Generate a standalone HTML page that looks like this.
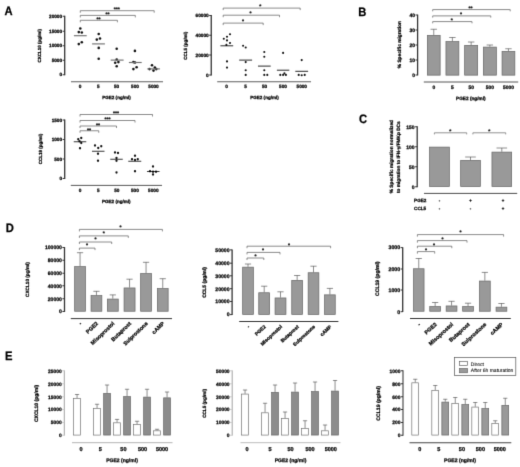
<!DOCTYPE html>
<html lang="en"><head><meta charset="utf-8"><title>Figure</title>
<style>
html,body{margin:0;padding:0;background:#fff;}
body{width:520px;height:467px;overflow:hidden;}
svg{display:block;font-family:"Liberation Sans",Arial,sans-serif;text-rendering:geometricPrecision;}
text{stroke:#000;stroke-width:0.25px;}
</style></head><body>
<svg width="520" height="467" viewBox="0 0 520 467">
<defs><filter id="soft" x="0" y="0" width="520" height="467" filterUnits="userSpaceOnUse" color-interpolation-filters="sRGB"><feConvolveMatrix order="3" kernelMatrix="0 1 0 1 6 1 0 1 0" divisor="10" edgeMode="duplicate" preserveAlpha="false"/></filter></defs>
<g filter="url(#soft)">
<rect width="520" height="467" fill="#fff"/>
<text transform="translate(4.5,14.5) scale(0.92,1)" font-size="12.2" font-weight="bold" fill="#000">A</text>
<text transform="translate(358.2,15.8) scale(0.92,1)" font-size="12.2" font-weight="bold" fill="#000">B</text>
<text transform="translate(359.0,123.4) scale(0.92,1)" font-size="12.2" font-weight="bold" fill="#000">C</text>
<text transform="translate(5.8,231.8) scale(0.92,1)" font-size="12.2" font-weight="bold" fill="#000">D</text>
<text transform="translate(4.9,359.8) scale(0.92,1)" font-size="12.2" font-weight="bold" fill="#000">E</text>
<line x1="64.70" y1="15.85" x2="64.70" y2="75.15" stroke="#333333" stroke-width="1.3" stroke-linecap="butt"/>
<line x1="62.60" y1="16.25" x2="64.70" y2="16.25" stroke="#333333" stroke-width="1.0" stroke-linecap="butt"/>
<text x="62.10" y="17.94" font-size="4.7" text-anchor="end" font-weight="bold" fill="#000">20000</text>
<line x1="62.60" y1="31.25" x2="64.70" y2="31.25" stroke="#333333" stroke-width="1.0" stroke-linecap="butt"/>
<text x="62.10" y="32.94" font-size="4.7" text-anchor="end" font-weight="bold" fill="#000">15000</text>
<line x1="62.60" y1="45.75" x2="64.70" y2="45.75" stroke="#333333" stroke-width="1.0" stroke-linecap="butt"/>
<text x="62.10" y="47.44" font-size="4.7" text-anchor="end" font-weight="bold" fill="#000">10000</text>
<line x1="62.60" y1="60.25" x2="64.70" y2="60.25" stroke="#333333" stroke-width="1.0" stroke-linecap="butt"/>
<text x="62.10" y="61.94" font-size="4.7" text-anchor="end" font-weight="bold" fill="#000">5000</text>
<line x1="62.60" y1="74.75" x2="64.70" y2="74.75" stroke="#333333" stroke-width="1.0" stroke-linecap="butt"/>
<text x="62.10" y="76.44" font-size="4.7" text-anchor="end" font-weight="bold" fill="#000">0</text>
<line x1="71.00" y1="81.75" x2="163.00" y2="81.75" stroke="#555" stroke-width="0.95" stroke-linecap="butt"/>
<text x="80.00" y="87.80" font-size="4.7" text-anchor="middle" font-weight="bold" fill="#000">0</text>
<text x="98.25" y="87.80" font-size="4.7" text-anchor="middle" font-weight="bold" fill="#000">5</text>
<text x="116.50" y="87.80" font-size="4.7" text-anchor="middle" font-weight="bold" fill="#000">50</text>
<text x="135.00" y="87.80" font-size="4.7" text-anchor="middle" font-weight="bold" fill="#000">500</text>
<text x="153.50" y="87.80" font-size="4.7" text-anchor="middle" font-weight="bold" fill="#000">5000</text>
<text x="116.50" y="99.20" font-size="4.55" text-anchor="middle" font-weight="bold" fill="#000">PGE2 (ng/ml)</text>
<text x="40.60" y="45.75" font-size="4.5" text-anchor="middle" font-weight="bold" fill="#000" transform="rotate(-90 40.60 45.75)">CXCL10 (pg/ml)</text>
<circle cx="80.30" cy="28.50" r="1.28" fill="#111"/>
<circle cx="78.80" cy="32.10" r="1.28" fill="#111"/>
<circle cx="81.80" cy="32.50" r="1.28" fill="#111"/>
<circle cx="81.80" cy="42.20" r="1.28" fill="#111"/>
<circle cx="78.80" cy="44.10" r="1.28" fill="#111"/>
<circle cx="98.70" cy="34.00" r="1.28" fill="#111"/>
<circle cx="96.80" cy="39.60" r="1.28" fill="#111"/>
<circle cx="100.00" cy="38.50" r="1.28" fill="#111"/>
<circle cx="98.70" cy="47.90" r="1.28" fill="#111"/>
<circle cx="98.70" cy="58.80" r="1.28" fill="#111"/>
<circle cx="116.70" cy="48.80" r="1.28" fill="#111"/>
<circle cx="116.70" cy="59.50" r="1.28" fill="#111"/>
<circle cx="115.20" cy="62.70" r="1.28" fill="#111"/>
<circle cx="118.40" cy="62.10" r="1.28" fill="#111"/>
<circle cx="116.70" cy="66.30" r="1.28" fill="#111"/>
<circle cx="134.90" cy="50.90" r="1.28" fill="#111"/>
<circle cx="133.40" cy="62.10" r="1.28" fill="#111"/>
<circle cx="135.00" cy="62.50" r="1.28" fill="#111"/>
<circle cx="136.60" cy="67.20" r="1.28" fill="#111"/>
<circle cx="133.40" cy="69.10" r="1.28" fill="#111"/>
<circle cx="152.00" cy="65.30" r="1.28" fill="#111"/>
<circle cx="154.80" cy="67.60" r="1.28" fill="#111"/>
<circle cx="149.50" cy="69.10" r="1.28" fill="#111"/>
<circle cx="156.30" cy="69.10" r="1.28" fill="#111"/>
<circle cx="153.50" cy="70.60" r="1.28" fill="#111"/>
<line x1="73.90" y1="35.70" x2="86.70" y2="35.70" stroke="#707070" stroke-width="1.15" stroke-linecap="butt"/>
<line x1="92.10" y1="43.90" x2="104.90" y2="43.90" stroke="#707070" stroke-width="1.15" stroke-linecap="butt"/>
<line x1="110.70" y1="60.10" x2="123.60" y2="60.10" stroke="#707070" stroke-width="1.15" stroke-linecap="butt"/>
<line x1="128.90" y1="62.50" x2="141.70" y2="62.50" stroke="#707070" stroke-width="1.15" stroke-linecap="butt"/>
<line x1="147.30" y1="68.90" x2="159.90" y2="68.90" stroke="#707070" stroke-width="1.15" stroke-linecap="butt"/>
<polyline points="80.30,12.70 80.30,10.70 154.20,10.70 154.20,12.70" fill="none" stroke="#5a5a5a" stroke-width="0.7"/>
<polyline points="80.30,17.40 80.30,15.40 135.30,15.40 135.30,17.40" fill="none" stroke="#5a5a5a" stroke-width="0.7"/>
<polyline points="80.30,22.30 80.30,20.30 117.40,20.30 117.40,22.30" fill="none" stroke="#5a5a5a" stroke-width="0.7"/>
<text x="116.70" y="11.01" font-size="5.2" text-anchor="middle" font-weight="bold" fill="#222">***</text>
<text x="107.50" y="16.21" font-size="5.2" text-anchor="middle" font-weight="bold" fill="#222">**</text>
<text x="98.50" y="21.11" font-size="5.2" text-anchor="middle" font-weight="bold" fill="#222">**</text>
<line x1="211.25" y1="15.10" x2="211.25" y2="75.40" stroke="#333333" stroke-width="1.3" stroke-linecap="butt"/>
<line x1="209.15" y1="15.50" x2="211.25" y2="15.50" stroke="#333333" stroke-width="1.0" stroke-linecap="butt"/>
<text x="208.65" y="17.19" font-size="4.7" text-anchor="end" font-weight="bold" fill="#000">60000</text>
<line x1="209.15" y1="35.25" x2="211.25" y2="35.25" stroke="#333333" stroke-width="1.0" stroke-linecap="butt"/>
<text x="208.65" y="36.94" font-size="4.7" text-anchor="end" font-weight="bold" fill="#000">40000</text>
<line x1="209.15" y1="55.00" x2="211.25" y2="55.00" stroke="#333333" stroke-width="1.0" stroke-linecap="butt"/>
<text x="208.65" y="56.69" font-size="4.7" text-anchor="end" font-weight="bold" fill="#000">20000</text>
<line x1="209.15" y1="75.00" x2="211.25" y2="75.00" stroke="#333333" stroke-width="1.0" stroke-linecap="butt"/>
<text x="208.65" y="76.69" font-size="4.7" text-anchor="end" font-weight="bold" fill="#000">0</text>
<line x1="217.20" y1="81.75" x2="311.00" y2="81.75" stroke="#555" stroke-width="0.95" stroke-linecap="butt"/>
<text x="226.60" y="87.80" font-size="4.7" text-anchor="middle" font-weight="bold" fill="#000">0</text>
<text x="245.50" y="87.80" font-size="4.7" text-anchor="middle" font-weight="bold" fill="#000">5</text>
<text x="264.50" y="87.80" font-size="4.7" text-anchor="middle" font-weight="bold" fill="#000">50</text>
<text x="283.00" y="87.80" font-size="4.7" text-anchor="middle" font-weight="bold" fill="#000">500</text>
<text x="301.75" y="87.80" font-size="4.7" text-anchor="middle" font-weight="bold" fill="#000">5000</text>
<text x="264.50" y="99.20" font-size="4.55" text-anchor="middle" font-weight="bold" fill="#000">PGE2 (ng/ml)</text>
<text x="187.20" y="45.75" font-size="4.5" text-anchor="middle" font-weight="bold" fill="#000" transform="rotate(-90 187.20 45.75)">CCL5 (pg/ml)</text>
<circle cx="230.00" cy="34.20" r="1.05" fill="#111"/>
<circle cx="227.00" cy="36.80" r="1.05" fill="#111"/>
<circle cx="223.80" cy="38.70" r="1.05" fill="#111"/>
<circle cx="227.00" cy="40.40" r="1.05" fill="#111"/>
<circle cx="230.00" cy="43.00" r="1.05" fill="#111"/>
<circle cx="226.40" cy="44.90" r="1.05" fill="#111"/>
<circle cx="227.00" cy="61.40" r="1.05" fill="#111"/>
<circle cx="227.00" cy="67.60" r="1.05" fill="#111"/>
<circle cx="243.10" cy="45.80" r="1.05" fill="#111"/>
<circle cx="245.70" cy="47.50" r="1.05" fill="#111"/>
<circle cx="245.70" cy="62.10" r="1.05" fill="#111"/>
<circle cx="245.70" cy="70.20" r="1.05" fill="#111"/>
<circle cx="245.70" cy="74.90" r="1.05" fill="#111"/>
<circle cx="264.30" cy="52.00" r="1.05" fill="#111"/>
<circle cx="264.30" cy="56.70" r="1.05" fill="#111"/>
<circle cx="264.30" cy="70.20" r="1.05" fill="#111"/>
<circle cx="264.30" cy="74.90" r="1.05" fill="#111"/>
<circle cx="267.30" cy="74.90" r="1.05" fill="#111"/>
<circle cx="283.10" cy="52.90" r="1.05" fill="#111"/>
<circle cx="280.30" cy="74.90" r="1.05" fill="#111"/>
<circle cx="283.10" cy="74.90" r="1.05" fill="#111"/>
<circle cx="285.90" cy="74.90" r="1.05" fill="#111"/>
<circle cx="284.40" cy="73.40" r="1.05" fill="#111"/>
<circle cx="301.70" cy="60.10" r="1.05" fill="#111"/>
<circle cx="298.70" cy="74.90" r="1.05" fill="#111"/>
<circle cx="301.70" cy="75.30" r="1.05" fill="#111"/>
<circle cx="304.70" cy="74.90" r="1.05" fill="#111"/>
<line x1="220.40" y1="45.80" x2="233.20" y2="45.80" stroke="#000" stroke-width="0.85" stroke-linecap="butt"/>
<line x1="239.20" y1="60.10" x2="252.10" y2="60.10" stroke="#000" stroke-width="0.85" stroke-linecap="butt"/>
<line x1="258.00" y1="66.10" x2="270.70" y2="66.10" stroke="#000" stroke-width="0.85" stroke-linecap="butt"/>
<line x1="276.90" y1="70.20" x2="289.30" y2="70.20" stroke="#000" stroke-width="0.85" stroke-linecap="butt"/>
<line x1="295.30" y1="71.30" x2="308.10" y2="71.30" stroke="#000" stroke-width="0.85" stroke-linecap="butt"/>
<polyline points="223.20,10.10 223.20,8.10 300.20,8.10 300.20,10.10" fill="none" stroke="#5a5a5a" stroke-width="0.7"/>
<polyline points="223.20,17.20 223.20,15.20 279.50,15.20 279.50,17.20" fill="none" stroke="#5a5a5a" stroke-width="0.7"/>
<polyline points="223.20,25.10 223.20,23.10 263.20,23.10 263.20,25.10" fill="none" stroke="#5a5a5a" stroke-width="0.7"/>
<text x="260.20" y="8.31" font-size="5.2" text-anchor="middle" font-weight="bold" fill="#222">*</text>
<text x="250.60" y="15.31" font-size="5.2" text-anchor="middle" font-weight="bold" fill="#222">*</text>
<text x="243.10" y="23.41" font-size="5.2" text-anchor="middle" font-weight="bold" fill="#222">*</text>
<line x1="64.70" y1="119.60" x2="64.70" y2="178.90" stroke="#333333" stroke-width="1.3" stroke-linecap="butt"/>
<line x1="62.60" y1="120.00" x2="64.70" y2="120.00" stroke="#333333" stroke-width="1.0" stroke-linecap="butt"/>
<text x="62.10" y="121.69" font-size="4.7" text-anchor="end" font-weight="bold" fill="#000">1500</text>
<line x1="62.60" y1="139.50" x2="64.70" y2="139.50" stroke="#333333" stroke-width="1.0" stroke-linecap="butt"/>
<text x="62.10" y="141.19" font-size="4.7" text-anchor="end" font-weight="bold" fill="#000">1000</text>
<line x1="62.60" y1="159.00" x2="64.70" y2="159.00" stroke="#333333" stroke-width="1.0" stroke-linecap="butt"/>
<text x="62.10" y="160.69" font-size="4.7" text-anchor="end" font-weight="bold" fill="#000">500</text>
<line x1="62.60" y1="178.50" x2="64.70" y2="178.50" stroke="#333333" stroke-width="1.0" stroke-linecap="butt"/>
<text x="62.10" y="180.19" font-size="4.7" text-anchor="end" font-weight="bold" fill="#000">0</text>
<line x1="70.80" y1="185.40" x2="162.00" y2="185.40" stroke="#444" stroke-width="0.9" stroke-linecap="butt"/>
<text x="80.00" y="192.10" font-size="4.7" text-anchor="middle" font-weight="bold" fill="#000">0</text>
<text x="98.40" y="192.10" font-size="4.7" text-anchor="middle" font-weight="bold" fill="#000">5</text>
<text x="116.80" y="192.10" font-size="4.7" text-anchor="middle" font-weight="bold" fill="#000">50</text>
<text x="134.90" y="192.10" font-size="4.7" text-anchor="middle" font-weight="bold" fill="#000">500</text>
<text x="153.30" y="192.10" font-size="4.7" text-anchor="middle" font-weight="bold" fill="#000">5000</text>
<text x="116.30" y="203.30" font-size="4.55" text-anchor="middle" font-weight="bold" fill="#000">PGE2 (ng/ml)</text>
<text x="41.60" y="149.00" font-size="4.5" text-anchor="middle" font-weight="bold" fill="#000" transform="rotate(-90 41.60 149.00)">CCL19 (pg/ml)</text>
<circle cx="78.25" cy="139.25" r="1.15" fill="#111"/>
<circle cx="81.25" cy="138.00" r="1.15" fill="#111"/>
<circle cx="79.50" cy="141.25" r="1.15" fill="#111"/>
<circle cx="81.25" cy="143.00" r="1.15" fill="#111"/>
<circle cx="80.00" cy="148.25" r="1.15" fill="#111"/>
<circle cx="95.00" cy="145.50" r="1.15" fill="#111"/>
<circle cx="101.25" cy="146.25" r="1.15" fill="#111"/>
<circle cx="98.25" cy="148.00" r="1.15" fill="#111"/>
<circle cx="98.00" cy="153.75" r="1.15" fill="#111"/>
<circle cx="98.00" cy="160.75" r="1.15" fill="#111"/>
<circle cx="115.00" cy="152.50" r="1.15" fill="#111"/>
<circle cx="118.00" cy="153.00" r="1.15" fill="#111"/>
<circle cx="116.50" cy="158.00" r="1.15" fill="#111"/>
<circle cx="116.50" cy="160.75" r="1.15" fill="#111"/>
<circle cx="116.50" cy="172.50" r="1.15" fill="#111"/>
<circle cx="135.00" cy="155.75" r="1.15" fill="#111"/>
<circle cx="132.00" cy="159.25" r="1.15" fill="#111"/>
<circle cx="135.00" cy="160.00" r="1.15" fill="#111"/>
<circle cx="137.75" cy="159.25" r="1.15" fill="#111"/>
<circle cx="135.00" cy="171.25" r="1.15" fill="#111"/>
<circle cx="153.00" cy="166.50" r="1.15" fill="#111"/>
<circle cx="150.00" cy="171.25" r="1.15" fill="#111"/>
<circle cx="153.00" cy="171.75" r="1.15" fill="#111"/>
<circle cx="156.00" cy="171.75" r="1.15" fill="#111"/>
<circle cx="153.00" cy="174.50" r="1.15" fill="#111"/>
<line x1="73.75" y1="141.75" x2="86.25" y2="141.75" stroke="#000" stroke-width="0.8" stroke-linecap="butt"/>
<line x1="92.00" y1="151.25" x2="104.50" y2="151.25" stroke="#000" stroke-width="0.8" stroke-linecap="butt"/>
<line x1="110.25" y1="159.25" x2="122.75" y2="159.25" stroke="#000" stroke-width="0.8" stroke-linecap="butt"/>
<line x1="128.25" y1="161.25" x2="141.25" y2="161.25" stroke="#000" stroke-width="0.8" stroke-linecap="butt"/>
<line x1="147.00" y1="171.50" x2="159.50" y2="171.50" stroke="#000" stroke-width="0.8" stroke-linecap="butt"/>
<polyline points="80.00,116.50 80.00,114.50 152.50,114.50 152.50,116.50" fill="none" stroke="#5a5a5a" stroke-width="0.7"/>
<polyline points="80.00,122.50 80.00,120.50 135.00,120.50 135.00,122.50" fill="none" stroke="#5a5a5a" stroke-width="0.7"/>
<polyline points="80.00,128.00 80.00,126.00 116.50,126.00 116.50,128.00" fill="none" stroke="#5a5a5a" stroke-width="0.7"/>
<polyline points="80.00,132.75 80.00,130.75 98.75,130.75 98.75,132.75" fill="none" stroke="#5a5a5a" stroke-width="0.7"/>
<text x="116.00" y="114.66" font-size="5.2" text-anchor="middle" font-weight="bold" fill="#222">***</text>
<text x="107.50" y="120.91" font-size="5.2" text-anchor="middle" font-weight="bold" fill="#222">***</text>
<text x="98.00" y="126.66" font-size="5.2" text-anchor="middle" font-weight="bold" fill="#222">**</text>
<text x="89.00" y="131.66" font-size="5.2" text-anchor="middle" font-weight="bold" fill="#222">**</text>
<line x1="417.60" y1="14.60" x2="417.60" y2="75.40" stroke="#333333" stroke-width="1.3" stroke-linecap="butt"/>
<line x1="415.50" y1="15.00" x2="417.60" y2="15.00" stroke="#333333" stroke-width="1.0" stroke-linecap="butt"/>
<text x="415.00" y="16.80" font-size="5.0" text-anchor="end" font-weight="bold" fill="#000">40</text>
<line x1="415.50" y1="30.00" x2="417.60" y2="30.00" stroke="#333333" stroke-width="1.0" stroke-linecap="butt"/>
<text x="415.00" y="31.80" font-size="5.0" text-anchor="end" font-weight="bold" fill="#000">30</text>
<line x1="415.50" y1="45.00" x2="417.60" y2="45.00" stroke="#333333" stroke-width="1.0" stroke-linecap="butt"/>
<text x="415.00" y="46.80" font-size="5.0" text-anchor="end" font-weight="bold" fill="#000">20</text>
<line x1="415.50" y1="60.00" x2="417.60" y2="60.00" stroke="#333333" stroke-width="1.0" stroke-linecap="butt"/>
<text x="415.00" y="61.80" font-size="5.0" text-anchor="end" font-weight="bold" fill="#000">10</text>
<line x1="415.50" y1="75.00" x2="417.60" y2="75.00" stroke="#333333" stroke-width="1.0" stroke-linecap="butt"/>
<text x="415.00" y="76.80" font-size="5.0" text-anchor="end" font-weight="bold" fill="#000">0</text>
<line x1="423.80" y1="82.00" x2="518.20" y2="82.00" stroke="#555" stroke-width="1.1" stroke-linecap="butt"/>
<line x1="433.75" y1="35.00" x2="433.75" y2="29.25" stroke="#505050" stroke-width="0.65" stroke-linecap="butt"/>
<line x1="430.55" y1="29.25" x2="436.95" y2="29.25" stroke="#505050" stroke-width="0.65" stroke-linecap="butt"/>
<rect x="427.35" y="35.35" width="12.80" height="39.80" fill="#999999" stroke="#666666" stroke-width="0.7"/>
<line x1="452.40" y1="41.25" x2="452.40" y2="37.50" stroke="#505050" stroke-width="0.65" stroke-linecap="butt"/>
<line x1="449.20" y1="37.50" x2="455.60" y2="37.50" stroke="#505050" stroke-width="0.65" stroke-linecap="butt"/>
<rect x="445.95" y="41.60" width="12.90" height="33.55" fill="#999999" stroke="#666666" stroke-width="0.7"/>
<line x1="471.15" y1="45.00" x2="471.15" y2="42.00" stroke="#505050" stroke-width="0.65" stroke-linecap="butt"/>
<line x1="467.95" y1="42.00" x2="474.35" y2="42.00" stroke="#505050" stroke-width="0.65" stroke-linecap="butt"/>
<rect x="464.65" y="45.35" width="13.00" height="29.80" fill="#999999" stroke="#666666" stroke-width="0.7"/>
<line x1="489.85" y1="46.75" x2="489.85" y2="45.00" stroke="#505050" stroke-width="0.65" stroke-linecap="butt"/>
<line x1="486.65" y1="45.00" x2="493.05" y2="45.00" stroke="#505050" stroke-width="0.65" stroke-linecap="butt"/>
<rect x="483.35" y="47.10" width="13.00" height="28.05" fill="#999999" stroke="#666666" stroke-width="0.7"/>
<line x1="508.45" y1="51.00" x2="508.45" y2="48.75" stroke="#505050" stroke-width="0.65" stroke-linecap="butt"/>
<line x1="505.25" y1="48.75" x2="511.65" y2="48.75" stroke="#505050" stroke-width="0.65" stroke-linecap="butt"/>
<rect x="502.05" y="51.35" width="12.80" height="23.80" fill="#999999" stroke="#666666" stroke-width="0.7"/>
<text x="433.75" y="88.70" font-size="4.95" text-anchor="middle" font-weight="bold" fill="#000">0</text>
<text x="452.40" y="88.70" font-size="4.95" text-anchor="middle" font-weight="bold" fill="#000">5</text>
<text x="471.15" y="88.70" font-size="4.95" text-anchor="middle" font-weight="bold" fill="#000">50</text>
<text x="489.85" y="88.70" font-size="4.95" text-anchor="middle" font-weight="bold" fill="#000">500</text>
<text x="508.45" y="88.70" font-size="4.95" text-anchor="middle" font-weight="bold" fill="#000">5000</text>
<text x="470.80" y="99.50" font-size="4.7" text-anchor="middle" font-weight="bold" fill="#000">PGE2 (ng/ml)</text>
<text x="400.60" y="44.60" font-size="4.8" text-anchor="middle" font-weight="bold" fill="#000" transform="rotate(-90 400.60 44.60)">% Specific migration</text>
<polyline points="432.70,11.30 432.70,9.60 510.20,9.60 510.20,11.30" fill="none" stroke="#888" stroke-width="1.0"/>
<polyline points="432.70,17.60 432.70,15.90 490.75,15.90 490.75,17.60" fill="none" stroke="#888" stroke-width="1.0"/>
<polyline points="432.70,23.30 432.70,21.60 472.00,21.60 472.00,23.30" fill="none" stroke="#888" stroke-width="1.0"/>
<text x="470.50" y="9.91" font-size="5.2" text-anchor="middle" font-weight="bold" fill="#222">**</text>
<text x="461.00" y="16.41" font-size="5.2" text-anchor="middle" font-weight="bold" fill="#222">*</text>
<text x="451.75" y="21.91" font-size="5.2" text-anchor="middle" font-weight="bold" fill="#222">*</text>
<line x1="417.20" y1="126.35" x2="417.20" y2="187.15" stroke="#333333" stroke-width="1.3" stroke-linecap="butt"/>
<line x1="415.10" y1="126.75" x2="417.20" y2="126.75" stroke="#333333" stroke-width="1.0" stroke-linecap="butt"/>
<text x="414.60" y="128.55" font-size="5.0" text-anchor="end" font-weight="bold" fill="#000">150</text>
<line x1="415.10" y1="146.75" x2="417.20" y2="146.75" stroke="#333333" stroke-width="1.0" stroke-linecap="butt"/>
<text x="414.60" y="148.55" font-size="5.0" text-anchor="end" font-weight="bold" fill="#000">100</text>
<line x1="415.10" y1="166.75" x2="417.20" y2="166.75" stroke="#333333" stroke-width="1.0" stroke-linecap="butt"/>
<text x="414.60" y="168.55" font-size="5.0" text-anchor="end" font-weight="bold" fill="#000">50</text>
<line x1="415.10" y1="186.75" x2="417.20" y2="186.75" stroke="#333333" stroke-width="1.0" stroke-linecap="butt"/>
<text x="414.60" y="188.55" font-size="5.0" text-anchor="end" font-weight="bold" fill="#000">0</text>
<line x1="424.00" y1="193.40" x2="517.20" y2="193.40" stroke="#4a4a4a" stroke-width="1.0" stroke-linecap="butt"/>
<rect x="429.55" y="147.10" width="19.80" height="39.45" fill="#999999" stroke="#666666" stroke-width="0.7"/>
<line x1="470.50" y1="160.00" x2="470.50" y2="157.00" stroke="#505050" stroke-width="0.65" stroke-linecap="butt"/>
<line x1="465.20" y1="157.00" x2="475.80" y2="157.00" stroke="#505050" stroke-width="0.65" stroke-linecap="butt"/>
<rect x="460.65" y="160.35" width="19.70" height="26.20" fill="#999999" stroke="#666666" stroke-width="0.7"/>
<line x1="501.80" y1="151.75" x2="501.80" y2="148.00" stroke="#505050" stroke-width="0.65" stroke-linecap="butt"/>
<line x1="496.50" y1="148.00" x2="507.10" y2="148.00" stroke="#505050" stroke-width="0.65" stroke-linecap="butt"/>
<rect x="491.95" y="152.10" width="19.70" height="34.45" fill="#999999" stroke="#666666" stroke-width="0.7"/>
<polyline points="434.40,134.40 434.40,132.80 466.70,132.80 466.70,134.40" fill="none" stroke="#777" stroke-width="0.8"/>
<polyline points="472.90,134.40 472.90,132.80 505.70,132.80 505.70,134.40" fill="none" stroke="#777" stroke-width="0.8"/>
<text x="450.30" y="132.51" font-size="5.2" text-anchor="middle" font-weight="bold" fill="#222">*</text>
<text x="489.20" y="132.51" font-size="5.2" text-anchor="middle" font-weight="bold" fill="#222">*</text>
<text x="414.10" y="202.10" font-size="4.6" text-anchor="start" font-weight="bold" fill="#000">PGE2</text>
<text x="414.10" y="209.60" font-size="4.6" text-anchor="start" font-weight="bold" fill="#000">CCL5</text>
<text x="439.40" y="201.90" font-size="4.3" text-anchor="middle" font-weight="bold" fill="#000">-</text>
<text x="470.50" y="201.90" font-size="4.3" text-anchor="middle" font-weight="bold" fill="#000">+</text>
<text x="503.00" y="201.90" font-size="4.3" text-anchor="middle" font-weight="bold" fill="#000">+</text>
<text x="439.40" y="209.50" font-size="4.3" text-anchor="middle" font-weight="bold" fill="#000">-</text>
<text x="470.50" y="209.50" font-size="4.3" text-anchor="middle" font-weight="bold" fill="#000">-</text>
<text x="503.00" y="209.50" font-size="4.3" text-anchor="middle" font-weight="bold" fill="#000">+</text>
<text x="393.40" y="156.60" font-size="4.75" text-anchor="middle" font-weight="bold" fill="#000" transform="rotate(-90 393.40 156.60)">% Specific migration normalized</text>
<text x="399.80" y="157.20" font-size="4.75" text-anchor="middle" font-weight="bold" fill="#000" transform="rotate(-90 399.80 157.20)">to migration to IFN-γ/FMKp DCs</text>
<line x1="64.50" y1="247.10" x2="64.50" y2="311.90" stroke="#333333" stroke-width="1.3" stroke-linecap="butt"/>
<line x1="62.40" y1="247.50" x2="64.50" y2="247.50" stroke="#333333" stroke-width="1.0" stroke-linecap="butt"/>
<text x="61.90" y="249.34" font-size="5.1" text-anchor="end" font-weight="bold" fill="#000">100000</text>
<line x1="62.40" y1="260.25" x2="64.50" y2="260.25" stroke="#333333" stroke-width="1.0" stroke-linecap="butt"/>
<text x="61.90" y="262.09" font-size="5.1" text-anchor="end" font-weight="bold" fill="#000">80000</text>
<line x1="62.40" y1="273.25" x2="64.50" y2="273.25" stroke="#333333" stroke-width="1.0" stroke-linecap="butt"/>
<text x="61.90" y="275.09" font-size="5.1" text-anchor="end" font-weight="bold" fill="#000">60000</text>
<line x1="62.40" y1="285.75" x2="64.50" y2="285.75" stroke="#333333" stroke-width="1.0" stroke-linecap="butt"/>
<text x="61.90" y="287.59" font-size="5.1" text-anchor="end" font-weight="bold" fill="#000">40000</text>
<line x1="62.40" y1="298.75" x2="64.50" y2="298.75" stroke="#333333" stroke-width="1.0" stroke-linecap="butt"/>
<text x="61.90" y="300.59" font-size="5.1" text-anchor="end" font-weight="bold" fill="#000">20000</text>
<line x1="62.40" y1="311.50" x2="64.50" y2="311.50" stroke="#333333" stroke-width="1.0" stroke-linecap="butt"/>
<text x="61.90" y="313.34" font-size="5.1" text-anchor="end" font-weight="bold" fill="#000">0</text>
<line x1="70.80" y1="318.60" x2="172.00" y2="318.60" stroke="#333333" stroke-width="1.0" stroke-linecap="butt"/>
<line x1="80.05" y1="266.30" x2="80.05" y2="252.70" stroke="#505050" stroke-width="0.65" stroke-linecap="butt"/>
<line x1="76.95" y1="252.70" x2="83.15" y2="252.70" stroke="#505050" stroke-width="0.65" stroke-linecap="butt"/>
<rect x="74.65" y="266.65" width="10.80" height="44.60" fill="#999999" stroke="#666666" stroke-width="0.7"/>
<line x1="96.45" y1="295.30" x2="96.45" y2="291.30" stroke="#505050" stroke-width="0.65" stroke-linecap="butt"/>
<line x1="93.35" y1="291.30" x2="99.55" y2="291.30" stroke="#505050" stroke-width="0.65" stroke-linecap="butt"/>
<rect x="91.05" y="295.65" width="10.80" height="15.60" fill="#999999" stroke="#666666" stroke-width="0.7"/>
<line x1="112.80" y1="298.70" x2="112.80" y2="294.90" stroke="#505050" stroke-width="0.65" stroke-linecap="butt"/>
<line x1="109.70" y1="294.90" x2="115.90" y2="294.90" stroke="#505050" stroke-width="0.65" stroke-linecap="butt"/>
<rect x="107.35" y="299.05" width="10.90" height="12.20" fill="#999999" stroke="#666666" stroke-width="0.7"/>
<line x1="129.55" y1="287.60" x2="129.55" y2="279.20" stroke="#505050" stroke-width="0.65" stroke-linecap="butt"/>
<line x1="126.45" y1="279.20" x2="132.65" y2="279.20" stroke="#505050" stroke-width="0.65" stroke-linecap="butt"/>
<rect x="124.05" y="287.95" width="11.00" height="23.30" fill="#999999" stroke="#666666" stroke-width="0.7"/>
<line x1="146.05" y1="273.20" x2="146.05" y2="262.30" stroke="#505050" stroke-width="0.65" stroke-linecap="butt"/>
<line x1="142.95" y1="262.30" x2="149.15" y2="262.30" stroke="#505050" stroke-width="0.65" stroke-linecap="butt"/>
<rect x="140.65" y="273.55" width="10.80" height="37.70" fill="#999999" stroke="#666666" stroke-width="0.7"/>
<line x1="162.75" y1="288.20" x2="162.75" y2="278.70" stroke="#505050" stroke-width="0.65" stroke-linecap="butt"/>
<line x1="159.65" y1="278.70" x2="165.85" y2="278.70" stroke="#505050" stroke-width="0.65" stroke-linecap="butt"/>
<rect x="157.35" y="288.55" width="10.80" height="22.70" fill="#999999" stroke="#666666" stroke-width="0.7"/>
<text x="82.05" y="324.00" font-size="5.4" text-anchor="end" font-weight="bold" fill="#000" transform="rotate(-44 82.05 324.00)">-</text>
<text x="98.45" y="324.00" font-size="5.4" text-anchor="end" font-weight="bold" fill="#000" transform="rotate(-44 98.45 324.00)">PGE2</text>
<text x="114.80" y="324.00" font-size="5.4" text-anchor="end" font-weight="bold" fill="#000" transform="rotate(-44 114.80 324.00)">Misoprostol</text>
<text x="131.55" y="324.00" font-size="5.4" text-anchor="end" font-weight="bold" fill="#000" transform="rotate(-44 131.55 324.00)">Butaprost</text>
<text x="148.05" y="324.00" font-size="5.4" text-anchor="end" font-weight="bold" fill="#000" transform="rotate(-44 148.05 324.00)">Sulprostone</text>
<text x="164.75" y="324.00" font-size="5.4" text-anchor="end" font-weight="bold" fill="#000" transform="rotate(-44 164.75 324.00)">cAMP</text>
<text x="29.20" y="279.50" font-size="4.7" text-anchor="middle" font-weight="bold" fill="#000" transform="rotate(-90 29.20 279.50)">CXCL10 (pg/ml)</text>
<polyline points="79.40,231.40 79.40,229.40 162.40,229.40 162.40,231.40" fill="none" stroke="#5a5a5a" stroke-width="0.7"/>
<polyline points="79.40,237.90 79.40,235.90 128.30,235.90 128.30,237.90" fill="none" stroke="#5a5a5a" stroke-width="0.7"/>
<polyline points="79.40,244.00 79.40,242.00 111.70,242.00 111.70,244.00" fill="none" stroke="#5a5a5a" stroke-width="0.7"/>
<polyline points="79.40,250.10 79.40,248.10 95.00,248.10 95.00,250.10" fill="none" stroke="#5a5a5a" stroke-width="0.7"/>
<text x="120.50" y="228.91" font-size="5.2" text-anchor="middle" font-weight="bold" fill="#222">*</text>
<text x="103.75" y="234.91" font-size="5.2" text-anchor="middle" font-weight="bold" fill="#222">*</text>
<text x="95.50" y="241.31" font-size="5.2" text-anchor="middle" font-weight="bold" fill="#222">*</text>
<text x="87.00" y="247.41" font-size="5.2" text-anchor="middle" font-weight="bold" fill="#222">*</text>
<line x1="232.10" y1="249.50" x2="232.10" y2="315.00" stroke="#333333" stroke-width="1.3" stroke-linecap="butt"/>
<line x1="230.00" y1="249.90" x2="232.10" y2="249.90" stroke="#333333" stroke-width="1.0" stroke-linecap="butt"/>
<text x="229.50" y="251.74" font-size="5.1" text-anchor="end" font-weight="bold" fill="#000">50000</text>
<line x1="230.00" y1="263.20" x2="232.10" y2="263.20" stroke="#333333" stroke-width="1.0" stroke-linecap="butt"/>
<text x="229.50" y="265.04" font-size="5.1" text-anchor="end" font-weight="bold" fill="#000">40000</text>
<line x1="230.00" y1="275.80" x2="232.10" y2="275.80" stroke="#333333" stroke-width="1.0" stroke-linecap="butt"/>
<text x="229.50" y="277.64" font-size="5.1" text-anchor="end" font-weight="bold" fill="#000">30000</text>
<line x1="230.00" y1="288.70" x2="232.10" y2="288.70" stroke="#333333" stroke-width="1.0" stroke-linecap="butt"/>
<text x="229.50" y="290.54" font-size="5.1" text-anchor="end" font-weight="bold" fill="#000">20000</text>
<line x1="230.00" y1="301.50" x2="232.10" y2="301.50" stroke="#333333" stroke-width="1.0" stroke-linecap="butt"/>
<text x="229.50" y="303.34" font-size="5.1" text-anchor="end" font-weight="bold" fill="#000">10000</text>
<line x1="230.00" y1="314.60" x2="232.10" y2="314.60" stroke="#333333" stroke-width="1.0" stroke-linecap="butt"/>
<text x="229.50" y="316.44" font-size="5.1" text-anchor="end" font-weight="bold" fill="#000">0</text>
<line x1="239.20" y1="321.50" x2="338.40" y2="321.50" stroke="#333333" stroke-width="1.0" stroke-linecap="butt"/>
<line x1="248.00" y1="266.80" x2="248.00" y2="264.00" stroke="#505050" stroke-width="0.65" stroke-linecap="butt"/>
<line x1="244.90" y1="264.00" x2="251.10" y2="264.00" stroke="#505050" stroke-width="0.65" stroke-linecap="butt"/>
<rect x="242.65" y="267.15" width="10.70" height="47.30" fill="#999999" stroke="#666666" stroke-width="0.7"/>
<line x1="264.20" y1="292.40" x2="264.20" y2="286.20" stroke="#505050" stroke-width="0.65" stroke-linecap="butt"/>
<line x1="261.10" y1="286.20" x2="267.30" y2="286.20" stroke="#505050" stroke-width="0.65" stroke-linecap="butt"/>
<rect x="258.75" y="292.75" width="10.90" height="21.70" fill="#999999" stroke="#666666" stroke-width="0.7"/>
<line x1="280.50" y1="297.60" x2="280.50" y2="291.80" stroke="#505050" stroke-width="0.65" stroke-linecap="butt"/>
<line x1="277.40" y1="291.80" x2="283.60" y2="291.80" stroke="#505050" stroke-width="0.65" stroke-linecap="butt"/>
<rect x="275.05" y="297.95" width="10.90" height="16.50" fill="#999999" stroke="#666666" stroke-width="0.7"/>
<line x1="297.15" y1="280.00" x2="297.15" y2="275.50" stroke="#505050" stroke-width="0.65" stroke-linecap="butt"/>
<line x1="294.05" y1="275.50" x2="300.25" y2="275.50" stroke="#505050" stroke-width="0.65" stroke-linecap="butt"/>
<rect x="291.75" y="280.35" width="10.80" height="34.10" fill="#999999" stroke="#666666" stroke-width="0.7"/>
<line x1="313.50" y1="272.40" x2="313.50" y2="266.20" stroke="#505050" stroke-width="0.65" stroke-linecap="butt"/>
<line x1="310.40" y1="266.20" x2="316.60" y2="266.20" stroke="#505050" stroke-width="0.65" stroke-linecap="butt"/>
<rect x="308.15" y="272.75" width="10.70" height="41.70" fill="#999999" stroke="#666666" stroke-width="0.7"/>
<line x1="329.90" y1="294.50" x2="329.90" y2="288.40" stroke="#505050" stroke-width="0.65" stroke-linecap="butt"/>
<line x1="326.80" y1="288.40" x2="333.00" y2="288.40" stroke="#505050" stroke-width="0.65" stroke-linecap="butt"/>
<rect x="324.55" y="294.85" width="10.70" height="19.60" fill="#999999" stroke="#666666" stroke-width="0.7"/>
<text x="250.00" y="327.20" font-size="4.85" text-anchor="end" font-weight="bold" fill="#000" transform="rotate(-43 250.00 327.20)">-</text>
<text x="266.20" y="327.20" font-size="4.85" text-anchor="end" font-weight="bold" fill="#000" transform="rotate(-43 266.20 327.20)">PGE2</text>
<text x="282.50" y="327.20" font-size="4.85" text-anchor="end" font-weight="bold" fill="#000" transform="rotate(-43 282.50 327.20)">Misoprostol</text>
<text x="299.15" y="327.20" font-size="4.85" text-anchor="end" font-weight="bold" fill="#000" transform="rotate(-43 299.15 327.20)">Butaprost</text>
<text x="315.50" y="327.20" font-size="4.85" text-anchor="end" font-weight="bold" fill="#000" transform="rotate(-43 315.50 327.20)">Sulprostone</text>
<text x="331.90" y="327.20" font-size="4.85" text-anchor="end" font-weight="bold" fill="#000" transform="rotate(-43 331.90 327.20)">cAMP</text>
<text x="206.30" y="282.40" font-size="4.95" text-anchor="middle" font-weight="bold" fill="#000" transform="rotate(-90 206.30 282.40)">CCL5 (pg/ml)</text>
<polyline points="247.00,248.20 247.00,246.20 330.60,246.20 330.60,248.20" fill="none" stroke="#5a5a5a" stroke-width="0.7"/>
<polyline points="247.00,254.40 247.00,252.40 280.00,252.40 280.00,254.40" fill="none" stroke="#5a5a5a" stroke-width="0.7"/>
<polyline points="247.00,260.00 247.00,258.00 263.80,258.00 263.80,260.00" fill="none" stroke="#5a5a5a" stroke-width="0.7"/>
<text x="289.00" y="246.71" font-size="5.2" text-anchor="middle" font-weight="bold" fill="#222">*</text>
<text x="263.00" y="252.21" font-size="5.2" text-anchor="middle" font-weight="bold" fill="#222">*</text>
<text x="255.50" y="258.41" font-size="5.2" text-anchor="middle" font-weight="bold" fill="#222">*</text>
<line x1="402.70" y1="247.20" x2="402.70" y2="312.10" stroke="#333333" stroke-width="1.3" stroke-linecap="butt"/>
<line x1="400.60" y1="247.60" x2="402.70" y2="247.60" stroke="#333333" stroke-width="1.0" stroke-linecap="butt"/>
<text x="400.10" y="249.47" font-size="5.2" text-anchor="end" font-weight="bold" fill="#000">3000</text>
<line x1="400.60" y1="269.00" x2="402.70" y2="269.00" stroke="#333333" stroke-width="1.0" stroke-linecap="butt"/>
<text x="400.10" y="270.87" font-size="5.2" text-anchor="end" font-weight="bold" fill="#000">2000</text>
<line x1="400.60" y1="290.00" x2="402.70" y2="290.00" stroke="#333333" stroke-width="1.0" stroke-linecap="butt"/>
<text x="400.10" y="291.87" font-size="5.2" text-anchor="end" font-weight="bold" fill="#000">1000</text>
<line x1="400.60" y1="311.70" x2="402.70" y2="311.70" stroke="#333333" stroke-width="1.0" stroke-linecap="butt"/>
<text x="400.10" y="313.57" font-size="5.2" text-anchor="end" font-weight="bold" fill="#000">0</text>
<line x1="410.00" y1="318.50" x2="510.80" y2="318.50" stroke="#333333" stroke-width="1.0" stroke-linecap="butt"/>
<line x1="418.75" y1="268.40" x2="418.75" y2="258.50" stroke="#505050" stroke-width="0.65" stroke-linecap="butt"/>
<line x1="415.65" y1="258.50" x2="421.85" y2="258.50" stroke="#505050" stroke-width="0.65" stroke-linecap="butt"/>
<rect x="413.45" y="268.75" width="10.60" height="42.50" fill="#999999" stroke="#666666" stroke-width="0.7"/>
<line x1="435.15" y1="306.20" x2="435.15" y2="302.50" stroke="#505050" stroke-width="0.65" stroke-linecap="butt"/>
<line x1="432.05" y1="302.50" x2="438.25" y2="302.50" stroke="#505050" stroke-width="0.65" stroke-linecap="butt"/>
<rect x="429.75" y="306.55" width="10.80" height="4.70" fill="#999999" stroke="#666666" stroke-width="0.7"/>
<line x1="451.55" y1="305.60" x2="451.55" y2="301.30" stroke="#505050" stroke-width="0.65" stroke-linecap="butt"/>
<line x1="448.45" y1="301.30" x2="454.65" y2="301.30" stroke="#505050" stroke-width="0.65" stroke-linecap="butt"/>
<rect x="446.15" y="305.95" width="10.80" height="5.30" fill="#999999" stroke="#666666" stroke-width="0.7"/>
<line x1="468.05" y1="306.20" x2="468.05" y2="303.20" stroke="#505050" stroke-width="0.65" stroke-linecap="butt"/>
<line x1="464.95" y1="303.20" x2="471.15" y2="303.20" stroke="#505050" stroke-width="0.65" stroke-linecap="butt"/>
<rect x="462.65" y="306.55" width="10.80" height="4.70" fill="#999999" stroke="#666666" stroke-width="0.7"/>
<line x1="484.85" y1="280.70" x2="484.85" y2="272.40" stroke="#505050" stroke-width="0.65" stroke-linecap="butt"/>
<line x1="481.75" y1="272.40" x2="487.95" y2="272.40" stroke="#505050" stroke-width="0.65" stroke-linecap="butt"/>
<rect x="479.45" y="281.05" width="10.80" height="30.20" fill="#999999" stroke="#666666" stroke-width="0.7"/>
<line x1="501.45" y1="306.80" x2="501.45" y2="303.50" stroke="#505050" stroke-width="0.65" stroke-linecap="butt"/>
<line x1="498.35" y1="303.50" x2="504.55" y2="303.50" stroke="#505050" stroke-width="0.65" stroke-linecap="butt"/>
<rect x="496.05" y="307.15" width="10.80" height="4.10" fill="#999999" stroke="#666666" stroke-width="0.7"/>
<text x="420.75" y="325.00" font-size="5.45" text-anchor="end" font-weight="bold" fill="#000" transform="rotate(-42.5 420.75 325.00)">-</text>
<text x="437.15" y="325.00" font-size="5.45" text-anchor="end" font-weight="bold" fill="#000" transform="rotate(-42.5 437.15 325.00)">PGE2</text>
<text x="453.55" y="325.00" font-size="5.45" text-anchor="end" font-weight="bold" fill="#000" transform="rotate(-42.5 453.55 325.00)">Misoprostol</text>
<text x="470.05" y="325.00" font-size="5.45" text-anchor="end" font-weight="bold" fill="#000" transform="rotate(-42.5 470.05 325.00)">Butaprost</text>
<text x="486.85" y="325.00" font-size="5.45" text-anchor="end" font-weight="bold" fill="#000" transform="rotate(-42.5 486.85 325.00)">Sulprostone</text>
<text x="503.45" y="325.00" font-size="5.45" text-anchor="end" font-weight="bold" fill="#000" transform="rotate(-42.5 503.45 325.00)">cAMP</text>
<text x="379.40" y="278.70" font-size="5.1" text-anchor="middle" font-weight="bold" fill="#000" transform="rotate(-90 379.40 278.70)">CCL19 (pg/ml)</text>
<polyline points="417.40,236.60 417.40,234.60 503.60,234.60 503.60,236.60" fill="none" stroke="#5a5a5a" stroke-width="0.7"/>
<polyline points="417.40,242.60 417.40,240.60 467.00,240.60 467.00,242.60" fill="none" stroke="#5a5a5a" stroke-width="0.7"/>
<polyline points="417.40,248.20 417.40,246.20 451.80,246.20 451.80,248.20" fill="none" stroke="#5a5a5a" stroke-width="0.7"/>
<polyline points="417.40,253.60 417.40,251.60 434.70,251.60 434.70,253.60" fill="none" stroke="#5a5a5a" stroke-width="0.7"/>
<text x="460.60" y="234.41" font-size="5.2" text-anchor="middle" font-weight="bold" fill="#222">*</text>
<text x="442.50" y="240.51" font-size="5.2" text-anchor="middle" font-weight="bold" fill="#222">*</text>
<text x="434.00" y="246.71" font-size="5.2" text-anchor="middle" font-weight="bold" fill="#222">*</text>
<text x="426.00" y="252.21" font-size="5.2" text-anchor="middle" font-weight="bold" fill="#222">*</text>
<line x1="64.30" y1="370.35" x2="64.30" y2="435.65" stroke="#999" stroke-width="0.9" stroke-linecap="butt"/>
<line x1="62.20" y1="370.75" x2="64.30" y2="370.75" stroke="#ccc" stroke-width="1.0" stroke-linecap="butt"/>
<text x="61.70" y="372.51" font-size="4.9" text-anchor="end" font-weight="bold" fill="#000">25000</text>
<line x1="62.20" y1="383.75" x2="64.30" y2="383.75" stroke="#ccc" stroke-width="1.0" stroke-linecap="butt"/>
<text x="61.70" y="385.51" font-size="4.9" text-anchor="end" font-weight="bold" fill="#000">20000</text>
<line x1="62.20" y1="396.75" x2="64.30" y2="396.75" stroke="#ccc" stroke-width="1.0" stroke-linecap="butt"/>
<text x="61.70" y="398.51" font-size="4.9" text-anchor="end" font-weight="bold" fill="#000">15000</text>
<line x1="62.20" y1="409.50" x2="64.30" y2="409.50" stroke="#ccc" stroke-width="1.0" stroke-linecap="butt"/>
<text x="61.70" y="411.26" font-size="4.9" text-anchor="end" font-weight="bold" fill="#000">10000</text>
<line x1="62.20" y1="422.50" x2="64.30" y2="422.50" stroke="#ccc" stroke-width="1.0" stroke-linecap="butt"/>
<text x="61.70" y="424.26" font-size="4.9" text-anchor="end" font-weight="bold" fill="#000">5000</text>
<line x1="62.20" y1="435.25" x2="64.30" y2="435.25" stroke="#ccc" stroke-width="1.0" stroke-linecap="butt"/>
<text x="61.70" y="437.01" font-size="4.9" text-anchor="end" font-weight="bold" fill="#000">0</text>
<line x1="72.00" y1="442.70" x2="172.50" y2="442.70" stroke="#aaa" stroke-width="0.9" stroke-linecap="butt"/>
<line x1="77.05" y1="398.00" x2="77.05" y2="394.50" stroke="#505050" stroke-width="0.65" stroke-linecap="butt"/>
<line x1="74.95" y1="394.50" x2="79.15" y2="394.50" stroke="#505050" stroke-width="0.65" stroke-linecap="butt"/>
<rect x="73.62" y="398.32" width="6.85" height="36.75" fill="#fff" stroke="#6a6a6a" stroke-width="0.65"/>
<line x1="97.05" y1="408.00" x2="97.05" y2="404.25" stroke="#505050" stroke-width="0.65" stroke-linecap="butt"/>
<line x1="94.95" y1="404.25" x2="99.15" y2="404.25" stroke="#505050" stroke-width="0.65" stroke-linecap="butt"/>
<rect x="93.62" y="408.32" width="6.85" height="26.75" fill="#fff" stroke="#6a6a6a" stroke-width="0.65"/>
<line x1="107.05" y1="393.00" x2="107.05" y2="385.00" stroke="#505050" stroke-width="0.65" stroke-linecap="butt"/>
<line x1="104.95" y1="385.00" x2="109.15" y2="385.00" stroke="#505050" stroke-width="0.65" stroke-linecap="butt"/>
<rect x="103.65" y="393.35" width="6.80" height="41.70" fill="#8c8c8c" stroke="#666666" stroke-width="0.7"/>
<line x1="117.05" y1="422.50" x2="117.05" y2="419.40" stroke="#505050" stroke-width="0.65" stroke-linecap="butt"/>
<line x1="114.95" y1="419.40" x2="119.15" y2="419.40" stroke="#505050" stroke-width="0.65" stroke-linecap="butt"/>
<rect x="113.62" y="422.82" width="6.85" height="12.25" fill="#fff" stroke="#6a6a6a" stroke-width="0.65"/>
<line x1="127.05" y1="396.25" x2="127.05" y2="389.25" stroke="#505050" stroke-width="0.65" stroke-linecap="butt"/>
<line x1="124.95" y1="389.25" x2="129.15" y2="389.25" stroke="#505050" stroke-width="0.65" stroke-linecap="butt"/>
<rect x="123.65" y="396.60" width="6.80" height="38.45" fill="#8c8c8c" stroke="#666666" stroke-width="0.7"/>
<line x1="137.05" y1="424.25" x2="137.05" y2="421.25" stroke="#505050" stroke-width="0.65" stroke-linecap="butt"/>
<line x1="134.95" y1="421.25" x2="139.15" y2="421.25" stroke="#505050" stroke-width="0.65" stroke-linecap="butt"/>
<rect x="133.62" y="424.57" width="6.85" height="10.50" fill="#fff" stroke="#6a6a6a" stroke-width="0.65"/>
<line x1="147.05" y1="396.75" x2="147.05" y2="389.25" stroke="#505050" stroke-width="0.65" stroke-linecap="butt"/>
<line x1="144.95" y1="389.25" x2="149.15" y2="389.25" stroke="#505050" stroke-width="0.65" stroke-linecap="butt"/>
<rect x="143.65" y="397.10" width="6.80" height="37.95" fill="#8c8c8c" stroke="#666666" stroke-width="0.7"/>
<line x1="157.05" y1="430.50" x2="157.05" y2="429.25" stroke="#505050" stroke-width="0.65" stroke-linecap="butt"/>
<line x1="154.95" y1="429.25" x2="159.15" y2="429.25" stroke="#505050" stroke-width="0.65" stroke-linecap="butt"/>
<rect x="153.62" y="430.82" width="6.85" height="4.25" fill="#fff" stroke="#6a6a6a" stroke-width="0.65"/>
<line x1="167.05" y1="397.50" x2="167.05" y2="392.00" stroke="#505050" stroke-width="0.65" stroke-linecap="butt"/>
<line x1="164.95" y1="392.00" x2="169.15" y2="392.00" stroke="#505050" stroke-width="0.65" stroke-linecap="butt"/>
<rect x="163.65" y="397.85" width="6.80" height="37.20" fill="#8c8c8c" stroke="#666666" stroke-width="0.7"/>
<text x="81.00" y="450.75" font-size="5.5" text-anchor="middle" font-weight="bold" fill="#000">0</text>
<text x="100.30" y="450.75" font-size="5.5" text-anchor="middle" font-weight="bold" fill="#000">5</text>
<text x="123.40" y="450.75" font-size="5.5" text-anchor="middle" font-weight="bold" fill="#000">50</text>
<text x="142.50" y="450.75" font-size="5.5" text-anchor="middle" font-weight="bold" fill="#000">500</text>
<text x="162.00" y="450.75" font-size="5.5" text-anchor="middle" font-weight="bold" fill="#000">5000</text>
<text x="122.00" y="462.40" font-size="5.05" text-anchor="middle" font-weight="bold" fill="#000">PGE2 (ng/ml)</text>
<text x="38.20" y="403.40" font-size="5.0" text-anchor="middle" font-weight="bold" fill="#000" transform="rotate(-90 38.20 403.40)">CXCL10 (pg/ml)</text>
<line x1="232.20" y1="370.35" x2="232.20" y2="435.65" stroke="#999" stroke-width="0.9" stroke-linecap="butt"/>
<line x1="230.10" y1="370.75" x2="232.20" y2="370.75" stroke="#ccc" stroke-width="1.0" stroke-linecap="butt"/>
<text x="229.60" y="372.51" font-size="4.9" text-anchor="end" font-weight="bold" fill="#000">50000</text>
<line x1="230.10" y1="383.75" x2="232.20" y2="383.75" stroke="#ccc" stroke-width="1.0" stroke-linecap="butt"/>
<text x="229.60" y="385.51" font-size="4.9" text-anchor="end" font-weight="bold" fill="#000">40000</text>
<line x1="230.10" y1="396.75" x2="232.20" y2="396.75" stroke="#ccc" stroke-width="1.0" stroke-linecap="butt"/>
<text x="229.60" y="398.51" font-size="4.9" text-anchor="end" font-weight="bold" fill="#000">30000</text>
<line x1="230.10" y1="409.50" x2="232.20" y2="409.50" stroke="#ccc" stroke-width="1.0" stroke-linecap="butt"/>
<text x="229.60" y="411.26" font-size="4.9" text-anchor="end" font-weight="bold" fill="#000">20000</text>
<line x1="230.10" y1="422.50" x2="232.20" y2="422.50" stroke="#ccc" stroke-width="1.0" stroke-linecap="butt"/>
<text x="229.60" y="424.26" font-size="4.9" text-anchor="end" font-weight="bold" fill="#000">10000</text>
<line x1="230.10" y1="435.25" x2="232.20" y2="435.25" stroke="#ccc" stroke-width="1.0" stroke-linecap="butt"/>
<text x="229.60" y="437.01" font-size="4.9" text-anchor="end" font-weight="bold" fill="#000">0</text>
<line x1="240.50" y1="442.70" x2="340.50" y2="442.70" stroke="#b4b4b4" stroke-width="0.9" stroke-linecap="butt"/>
<line x1="245.05" y1="393.75" x2="245.05" y2="390.00" stroke="#505050" stroke-width="0.65" stroke-linecap="butt"/>
<line x1="242.95" y1="390.00" x2="247.15" y2="390.00" stroke="#505050" stroke-width="0.65" stroke-linecap="butt"/>
<rect x="241.62" y="394.07" width="6.85" height="41.00" fill="#fff" stroke="#6a6a6a" stroke-width="0.65"/>
<line x1="265.05" y1="412.50" x2="265.05" y2="403.25" stroke="#505050" stroke-width="0.65" stroke-linecap="butt"/>
<line x1="262.95" y1="403.25" x2="267.15" y2="403.25" stroke="#505050" stroke-width="0.65" stroke-linecap="butt"/>
<rect x="261.62" y="412.82" width="6.85" height="22.25" fill="#fff" stroke="#6a6a6a" stroke-width="0.65"/>
<line x1="275.05" y1="392.00" x2="275.05" y2="385.00" stroke="#505050" stroke-width="0.65" stroke-linecap="butt"/>
<line x1="272.95" y1="385.00" x2="277.15" y2="385.00" stroke="#505050" stroke-width="0.65" stroke-linecap="butt"/>
<rect x="271.65" y="392.35" width="6.80" height="42.70" fill="#8c8c8c" stroke="#666666" stroke-width="0.7"/>
<line x1="285.05" y1="418.25" x2="285.05" y2="412.00" stroke="#505050" stroke-width="0.65" stroke-linecap="butt"/>
<line x1="282.95" y1="412.00" x2="287.15" y2="412.00" stroke="#505050" stroke-width="0.65" stroke-linecap="butt"/>
<rect x="281.62" y="418.57" width="6.85" height="16.50" fill="#fff" stroke="#6a6a6a" stroke-width="0.65"/>
<line x1="295.05" y1="391.75" x2="295.05" y2="383.00" stroke="#505050" stroke-width="0.65" stroke-linecap="butt"/>
<line x1="292.95" y1="383.00" x2="297.15" y2="383.00" stroke="#505050" stroke-width="0.65" stroke-linecap="butt"/>
<rect x="291.65" y="392.10" width="6.80" height="42.95" fill="#8c8c8c" stroke="#666666" stroke-width="0.7"/>
<line x1="305.05" y1="428.25" x2="305.05" y2="420.75" stroke="#505050" stroke-width="0.65" stroke-linecap="butt"/>
<line x1="302.95" y1="420.75" x2="307.15" y2="420.75" stroke="#505050" stroke-width="0.65" stroke-linecap="butt"/>
<rect x="301.62" y="428.57" width="6.85" height="6.50" fill="#fff" stroke="#6a6a6a" stroke-width="0.65"/>
<line x1="315.05" y1="391.25" x2="315.05" y2="382.00" stroke="#505050" stroke-width="0.65" stroke-linecap="butt"/>
<line x1="312.95" y1="382.00" x2="317.15" y2="382.00" stroke="#505050" stroke-width="0.65" stroke-linecap="butt"/>
<rect x="311.65" y="391.60" width="6.80" height="43.45" fill="#8c8c8c" stroke="#666666" stroke-width="0.7"/>
<line x1="325.05" y1="430.50" x2="325.05" y2="425.00" stroke="#505050" stroke-width="0.65" stroke-linecap="butt"/>
<line x1="322.95" y1="425.00" x2="327.15" y2="425.00" stroke="#505050" stroke-width="0.65" stroke-linecap="butt"/>
<rect x="321.62" y="430.82" width="6.85" height="4.25" fill="#fff" stroke="#6a6a6a" stroke-width="0.65"/>
<line x1="335.05" y1="390.75" x2="335.05" y2="380.50" stroke="#505050" stroke-width="0.65" stroke-linecap="butt"/>
<line x1="332.95" y1="380.50" x2="337.15" y2="380.50" stroke="#505050" stroke-width="0.65" stroke-linecap="butt"/>
<rect x="331.65" y="391.10" width="6.80" height="43.95" fill="#8c8c8c" stroke="#666666" stroke-width="0.7"/>
<text x="247.00" y="450.75" font-size="5.5" text-anchor="middle" font-weight="bold" fill="#000">0</text>
<text x="270.00" y="450.75" font-size="5.5" text-anchor="middle" font-weight="bold" fill="#000">5</text>
<text x="290.50" y="450.75" font-size="5.5" text-anchor="middle" font-weight="bold" fill="#000">50</text>
<text x="310.00" y="450.75" font-size="5.5" text-anchor="middle" font-weight="bold" fill="#000">500</text>
<text x="330.75" y="450.75" font-size="5.5" text-anchor="middle" font-weight="bold" fill="#000">5000</text>
<text x="290.50" y="462.40" font-size="5.05" text-anchor="middle" font-weight="bold" fill="#000">PGE2 (ng/ml)</text>
<text x="206.10" y="403.40" font-size="4.65" text-anchor="middle" font-weight="bold" fill="#000" transform="rotate(-90 206.10 403.40)">CCL5 (pg/ml)</text>
<line x1="403.00" y1="370.35" x2="403.00" y2="435.65" stroke="#333333" stroke-width="1.05" stroke-linecap="butt"/>
<line x1="400.90" y1="370.75" x2="403.00" y2="370.75" stroke="#333333" stroke-width="1.0" stroke-linecap="butt"/>
<text x="400.40" y="372.51" font-size="4.9" text-anchor="end" font-weight="bold" fill="#000">1000</text>
<line x1="400.90" y1="383.75" x2="403.00" y2="383.75" stroke="#333333" stroke-width="1.0" stroke-linecap="butt"/>
<text x="400.40" y="385.51" font-size="4.9" text-anchor="end" font-weight="bold" fill="#000">800</text>
<line x1="400.90" y1="396.75" x2="403.00" y2="396.75" stroke="#333333" stroke-width="1.0" stroke-linecap="butt"/>
<text x="400.40" y="398.51" font-size="4.9" text-anchor="end" font-weight="bold" fill="#000">600</text>
<line x1="400.90" y1="409.50" x2="403.00" y2="409.50" stroke="#333333" stroke-width="1.0" stroke-linecap="butt"/>
<text x="400.40" y="411.26" font-size="4.9" text-anchor="end" font-weight="bold" fill="#000">400</text>
<line x1="400.90" y1="422.50" x2="403.00" y2="422.50" stroke="#333333" stroke-width="1.0" stroke-linecap="butt"/>
<text x="400.40" y="424.26" font-size="4.9" text-anchor="end" font-weight="bold" fill="#000">200</text>
<line x1="400.90" y1="435.25" x2="403.00" y2="435.25" stroke="#333333" stroke-width="1.0" stroke-linecap="butt"/>
<text x="400.40" y="437.01" font-size="4.9" text-anchor="end" font-weight="bold" fill="#000">0</text>
<line x1="409.50" y1="442.70" x2="511.30" y2="442.70" stroke="#444" stroke-width="1.05" stroke-linecap="butt"/>
<line x1="415.25" y1="382.50" x2="415.25" y2="379.25" stroke="#505050" stroke-width="0.65" stroke-linecap="butt"/>
<line x1="413.15" y1="379.25" x2="417.35" y2="379.25" stroke="#505050" stroke-width="0.65" stroke-linecap="butt"/>
<rect x="411.82" y="382.82" width="6.85" height="52.25" fill="#fff" stroke="#6a6a6a" stroke-width="0.65"/>
<line x1="435.25" y1="390.00" x2="435.25" y2="385.50" stroke="#505050" stroke-width="0.65" stroke-linecap="butt"/>
<line x1="433.15" y1="385.50" x2="437.35" y2="385.50" stroke="#505050" stroke-width="0.65" stroke-linecap="butt"/>
<rect x="431.82" y="390.32" width="6.85" height="44.75" fill="#fff" stroke="#6a6a6a" stroke-width="0.65"/>
<line x1="445.25" y1="401.75" x2="445.25" y2="399.25" stroke="#505050" stroke-width="0.65" stroke-linecap="butt"/>
<line x1="443.15" y1="399.25" x2="447.35" y2="399.25" stroke="#505050" stroke-width="0.65" stroke-linecap="butt"/>
<rect x="441.85" y="402.10" width="6.80" height="32.95" fill="#999999" stroke="#666666" stroke-width="0.7"/>
<line x1="455.25" y1="403.25" x2="455.25" y2="397.50" stroke="#505050" stroke-width="0.65" stroke-linecap="butt"/>
<line x1="453.15" y1="397.50" x2="457.35" y2="397.50" stroke="#505050" stroke-width="0.65" stroke-linecap="butt"/>
<rect x="451.82" y="403.57" width="6.85" height="31.50" fill="#fff" stroke="#6a6a6a" stroke-width="0.65"/>
<line x1="465.25" y1="404.25" x2="465.25" y2="399.25" stroke="#505050" stroke-width="0.65" stroke-linecap="butt"/>
<line x1="463.15" y1="399.25" x2="467.35" y2="399.25" stroke="#505050" stroke-width="0.65" stroke-linecap="butt"/>
<rect x="461.85" y="404.60" width="6.80" height="30.45" fill="#999999" stroke="#666666" stroke-width="0.7"/>
<line x1="475.25" y1="406.75" x2="475.25" y2="402.50" stroke="#505050" stroke-width="0.65" stroke-linecap="butt"/>
<line x1="473.15" y1="402.50" x2="477.35" y2="402.50" stroke="#505050" stroke-width="0.65" stroke-linecap="butt"/>
<rect x="471.82" y="407.07" width="6.85" height="28.00" fill="#fff" stroke="#6a6a6a" stroke-width="0.65"/>
<line x1="485.25" y1="408.25" x2="485.25" y2="402.50" stroke="#505050" stroke-width="0.65" stroke-linecap="butt"/>
<line x1="483.15" y1="402.50" x2="487.35" y2="402.50" stroke="#505050" stroke-width="0.65" stroke-linecap="butt"/>
<rect x="481.85" y="408.60" width="6.80" height="26.45" fill="#999999" stroke="#666666" stroke-width="0.7"/>
<line x1="495.25" y1="423.25" x2="495.25" y2="420.75" stroke="#505050" stroke-width="0.65" stroke-linecap="butt"/>
<line x1="493.15" y1="420.75" x2="497.35" y2="420.75" stroke="#505050" stroke-width="0.65" stroke-linecap="butt"/>
<rect x="491.82" y="423.57" width="6.85" height="11.50" fill="#fff" stroke="#6a6a6a" stroke-width="0.65"/>
<line x1="505.25" y1="405.00" x2="505.25" y2="398.25" stroke="#505050" stroke-width="0.65" stroke-linecap="butt"/>
<line x1="503.15" y1="398.25" x2="507.35" y2="398.25" stroke="#505050" stroke-width="0.65" stroke-linecap="butt"/>
<rect x="501.85" y="405.35" width="6.80" height="29.70" fill="#999999" stroke="#666666" stroke-width="0.7"/>
<text x="419.70" y="450.75" font-size="5.5" text-anchor="middle" font-weight="bold" fill="#000">0</text>
<text x="438.70" y="450.75" font-size="5.5" text-anchor="middle" font-weight="bold" fill="#000">5</text>
<text x="461.90" y="450.75" font-size="5.5" text-anchor="middle" font-weight="bold" fill="#000">50</text>
<text x="480.40" y="450.75" font-size="5.5" text-anchor="middle" font-weight="bold" fill="#000">500</text>
<text x="499.80" y="450.75" font-size="5.5" text-anchor="middle" font-weight="bold" fill="#000">5000</text>
<text x="460.00" y="462.40" font-size="5.1" text-anchor="middle" font-weight="bold" fill="#000">PGE2 (ng/ml)</text>
<text x="379.60" y="403.40" font-size="5.1" text-anchor="middle" font-weight="bold" fill="#000" transform="rotate(-90 379.60 403.40)">CCL19 (pg/ml)</text>
<rect x="454.6" y="357.4" width="61.2" height="18.1" fill="#fff" stroke="#555" stroke-width="0.7"/>
<rect x="459.52" y="361.32" width="8.05" height="4.15" fill="#fff" stroke="#555" stroke-width="0.65"/>
<rect x="459.55" y="368.55" width="8.00" height="4.20" fill="#999999" stroke="#666666" stroke-width="0.7"/>
<text x="470.80" y="366.00" font-size="5.0" text-anchor="start" font-weight="normal" fill="#000" style="stroke-width:0.06px">Direct</text>
<text x="470.80" y="372.30" font-size="5.0" text-anchor="start" font-weight="normal" fill="#000" style="stroke-width:0.06px">After 6h maturation</text>
</g>
</svg>
</body></html>
